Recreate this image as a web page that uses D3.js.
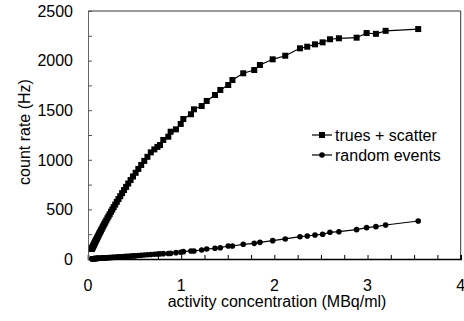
<!DOCTYPE html>
<html>
<head>
<meta charset="utf-8">
<script src="https://cdn.jsdelivr.net/npm/d3@7"></script>
<style>
  body { margin: 0; background: #fff; }
  text { font-family: "Liberation Sans", Arial, sans-serif; fill: #000; }
</style>
</head>
<body>
<div class="chart"></div>
<script>
// activity concentration (MBq/ml), shared by both series
var concentration = [
  0.040, 0.043, 0.046, 0.049, 0.052, 0.055, 0.058, 0.062, 0.066, 0.070,
  0.074, 0.078, 0.083, 0.088, 0.093, 0.098, 0.104, 0.110, 0.117, 0.124,
  0.131, 0.139, 0.147, 0.156, 0.165, 0.175, 0.185, 0.196, 0.208, 0.220,
  0.233, 0.247, 0.261, 0.276, 0.292, 0.309, 0.327, 0.346, 0.366, 0.387,
  0.409, 0.432, 0.457, 0.483, 0.511, 0.540, 0.571, 0.604, 0.638, 0.674,
  0.712, 0.745, 0.773, 0.808, 0.862, 0.887, 0.944, 0.995, 1.023, 1.105,
  1.137, 1.220, 1.274, 1.363, 1.420, 1.505, 1.550, 1.666, 1.784, 1.845,
  1.982, 2.117, 2.275, 2.353, 2.436, 2.518, 2.597, 2.693, 2.883, 2.990,
  3.090, 3.194, 3.544
];

var truesScatter = [
  100, 106, 112, 118, 124, 130, 136, 143, 151, 159,
  166, 174, 184, 193, 202, 212, 223, 235, 248, 261,
  273, 288, 302, 319, 335, 352, 370, 389, 410, 430,
  452, 476, 499, 523, 549, 576, 604, 633, 664, 695,
  727, 761, 796, 832, 869, 908, 948, 989, 1030, 1075,
  1105, 1130, 1149, 1200, 1233, 1283, 1307, 1361, 1411, 1459,
  1509, 1542, 1593, 1653, 1704, 1754, 1804, 1872, 1905, 1956,
  2013, 2049, 2124, 2140, 2164, 2184, 2215, 2225, 2231, 2278,
  2270, 2300, 2318
];

var randomEvents = [
  2, 2, 3, 3, 3, 3, 3, 4, 4, 4,
  4, 5, 5, 5, 6, 6, 6, 7, 7, 7,
  8, 8, 9, 9, 10, 11, 11, 12, 13, 14,
  14, 15, 16, 17, 18, 19, 21, 22, 23, 25,
  26, 28, 29, 31, 33, 35, 38, 40, 43, 45,
  48, 50, 52, 54, 56, 57, 64, 68, 74, 81,
  81, 91, 101, 108, 114, 131, 131, 148, 158, 168,
  185, 202, 225, 232, 242, 249, 269, 275, 296, 316,
  326, 343, 383
];

var xTickLabels = [0, 1, 2, 3, 4];
var yTickLabels = [0, 500, 1000, 1500, 2000, 2500];
var seriesNames = ["trues + scatter", "random events"];

var svgWidth = 464;
var svgHeight = 321;
var margin = { top: 11, right: 3.3, bottom: 62, left: 88 };
var chartWidth = svgWidth - margin.left - margin.right;
var chartHeight = svgHeight - margin.top - margin.bottom;

var svg = d3.select(".chart")
  .append("svg")
  .attr("width", svgWidth)
  .attr("height", svgHeight);

var chart = svg.append("g")
  .attr("transform", "translate(" + margin.left + "," + margin.top + ")");

var xScale = d3.scaleLinear().domain([0, 4]).range([0, chartWidth]);
var yScale = d3.scaleLinear().domain([0, 2500]).range([chartHeight, 0]);

// frame
chart.append("line")
  .attr("x1", 0).attr("x2", chartWidth).attr("y1", 0).attr("y2", 0)
  .attr("stroke", "#333").attr("stroke-width", 1);
chart.append("line")
  .attr("x1", chartWidth).attr("x2", chartWidth).attr("y1", 0).attr("y2", chartHeight)
  .attr("stroke", "#333").attr("stroke-width", 1);

// inward minor ticks every 0.25 and every 250
var xAxis = d3.axisBottom(xScale)
  .tickValues(d3.range(0, 4.001, 0.25))
  .tickSize(-4)
  .tickFormat("");
var yAxis = d3.axisLeft(yScale)
  .tickValues(d3.range(0, 2501, 250))
  .tickSize(-4)
  .tickFormat("");

var gx = chart.append("g")
  .attr("transform", "translate(0," + chartHeight + ")")
  .call(xAxis);
gx.select(".domain").attr("stroke", "#000").attr("stroke-width", 1.6);
gx.selectAll(".tick line").attr("stroke", "#000");

var gy = chart.append("g").call(yAxis);
gy.select(".domain").attr("stroke", "#666").attr("stroke-width", 1);
gy.selectAll(".tick line").attr("stroke", "#555");

chart.selectAll(".xlabel")
  .data(xTickLabels)
  .enter()
  .append("text")
  .attr("class", "xlabel")
  .attr("x", function(d) { return xScale(d); })
  .attr("y", chartHeight + 32)
  .attr("text-anchor", "middle")
  .attr("font-size", 16)
  .text(function(d) { return d; });

chart.selectAll(".ylabel")
  .data(yTickLabels)
  .enter()
  .append("text")
  .attr("class", "ylabel")
  .attr("x", -15)
  .attr("y", function(d) { return yScale(d); })
  .attr("dy", "0.36em")
  .attr("text-anchor", "end")
  .attr("font-size", 16)
  .text(function(d) { return d; });

// axis titles
svg.append("text")
  .attr("x", 277)
  .attr("y", 307)
  .attr("text-anchor", "middle")
  .attr("font-size", 16)
  .text("activity concentration (MBq/ml)");

svg.append("text")
  .attr("transform", "translate(30,132) rotate(-90)")
  .attr("text-anchor", "middle")
  .attr("font-size", 16)
  .text("count rate (Hz)");

var points = concentration.map(function(c, i) {
  return { x: c, trues: truesScatter[i], randoms: randomEvents[i] };
});

var lineTrues = d3.line()
  .x(function(d) { return xScale(d.x); })
  .y(function(d) { return yScale(d.trues); });
var lineRandoms = d3.line()
  .x(function(d) { return xScale(d.x); })
  .y(function(d) { return yScale(d.randoms); });

chart.append("path")
  .datum(points)
  .attr("d", lineRandoms)
  .attr("fill", "none")
  .attr("stroke", "#000")
  .attr("stroke-width", 1.2);

chart.selectAll(".dot")
  .data(points)
  .enter()
  .append("circle")
  .attr("class", "dot")
  .attr("cx", function(d) { return xScale(d.x); })
  .attr("cy", function(d) { return yScale(d.randoms); })
  .attr("r", 2.8)
  .attr("fill", "#000");

chart.append("path")
  .datum(points)
  .attr("d", lineTrues)
  .attr("fill", "none")
  .attr("stroke", "#000")
  .attr("stroke-width", 1.2);

chart.selectAll(".sq")
  .data(points)
  .enter()
  .append("rect")
  .attr("class", "sq")
  .attr("x", function(d) { return xScale(d.x) - 3; })
  .attr("y", function(d) { return yScale(d.trues) - 3; })
  .attr("width", 6)
  .attr("height", 6)
  .attr("fill", "#000");

// legend
var legend = svg.append("g").attr("transform", "translate(312,135)");
seriesNames.forEach(function(name, i) {
  var row = legend.append("g").attr("transform", "translate(0," + (i * 20) + ")");
  row.append("line")
    .attr("x1", 0).attr("x2", 20).attr("y1", 0).attr("y2", 0)
    .attr("stroke", "#000").attr("stroke-width", 1.2);
  if (i === 0) {
    row.append("rect").attr("x", 7).attr("y", -3).attr("width", 6).attr("height", 6);
  } else {
    row.append("circle").attr("cx", 10).attr("cy", 0).attr("r", 2.8);
  }
  row.append("text")
    .attr("x", 23)
    .attr("y", 5.5)
    .attr("font-size", 16)
    .text(name);
});
</script>
</body>
</html>
